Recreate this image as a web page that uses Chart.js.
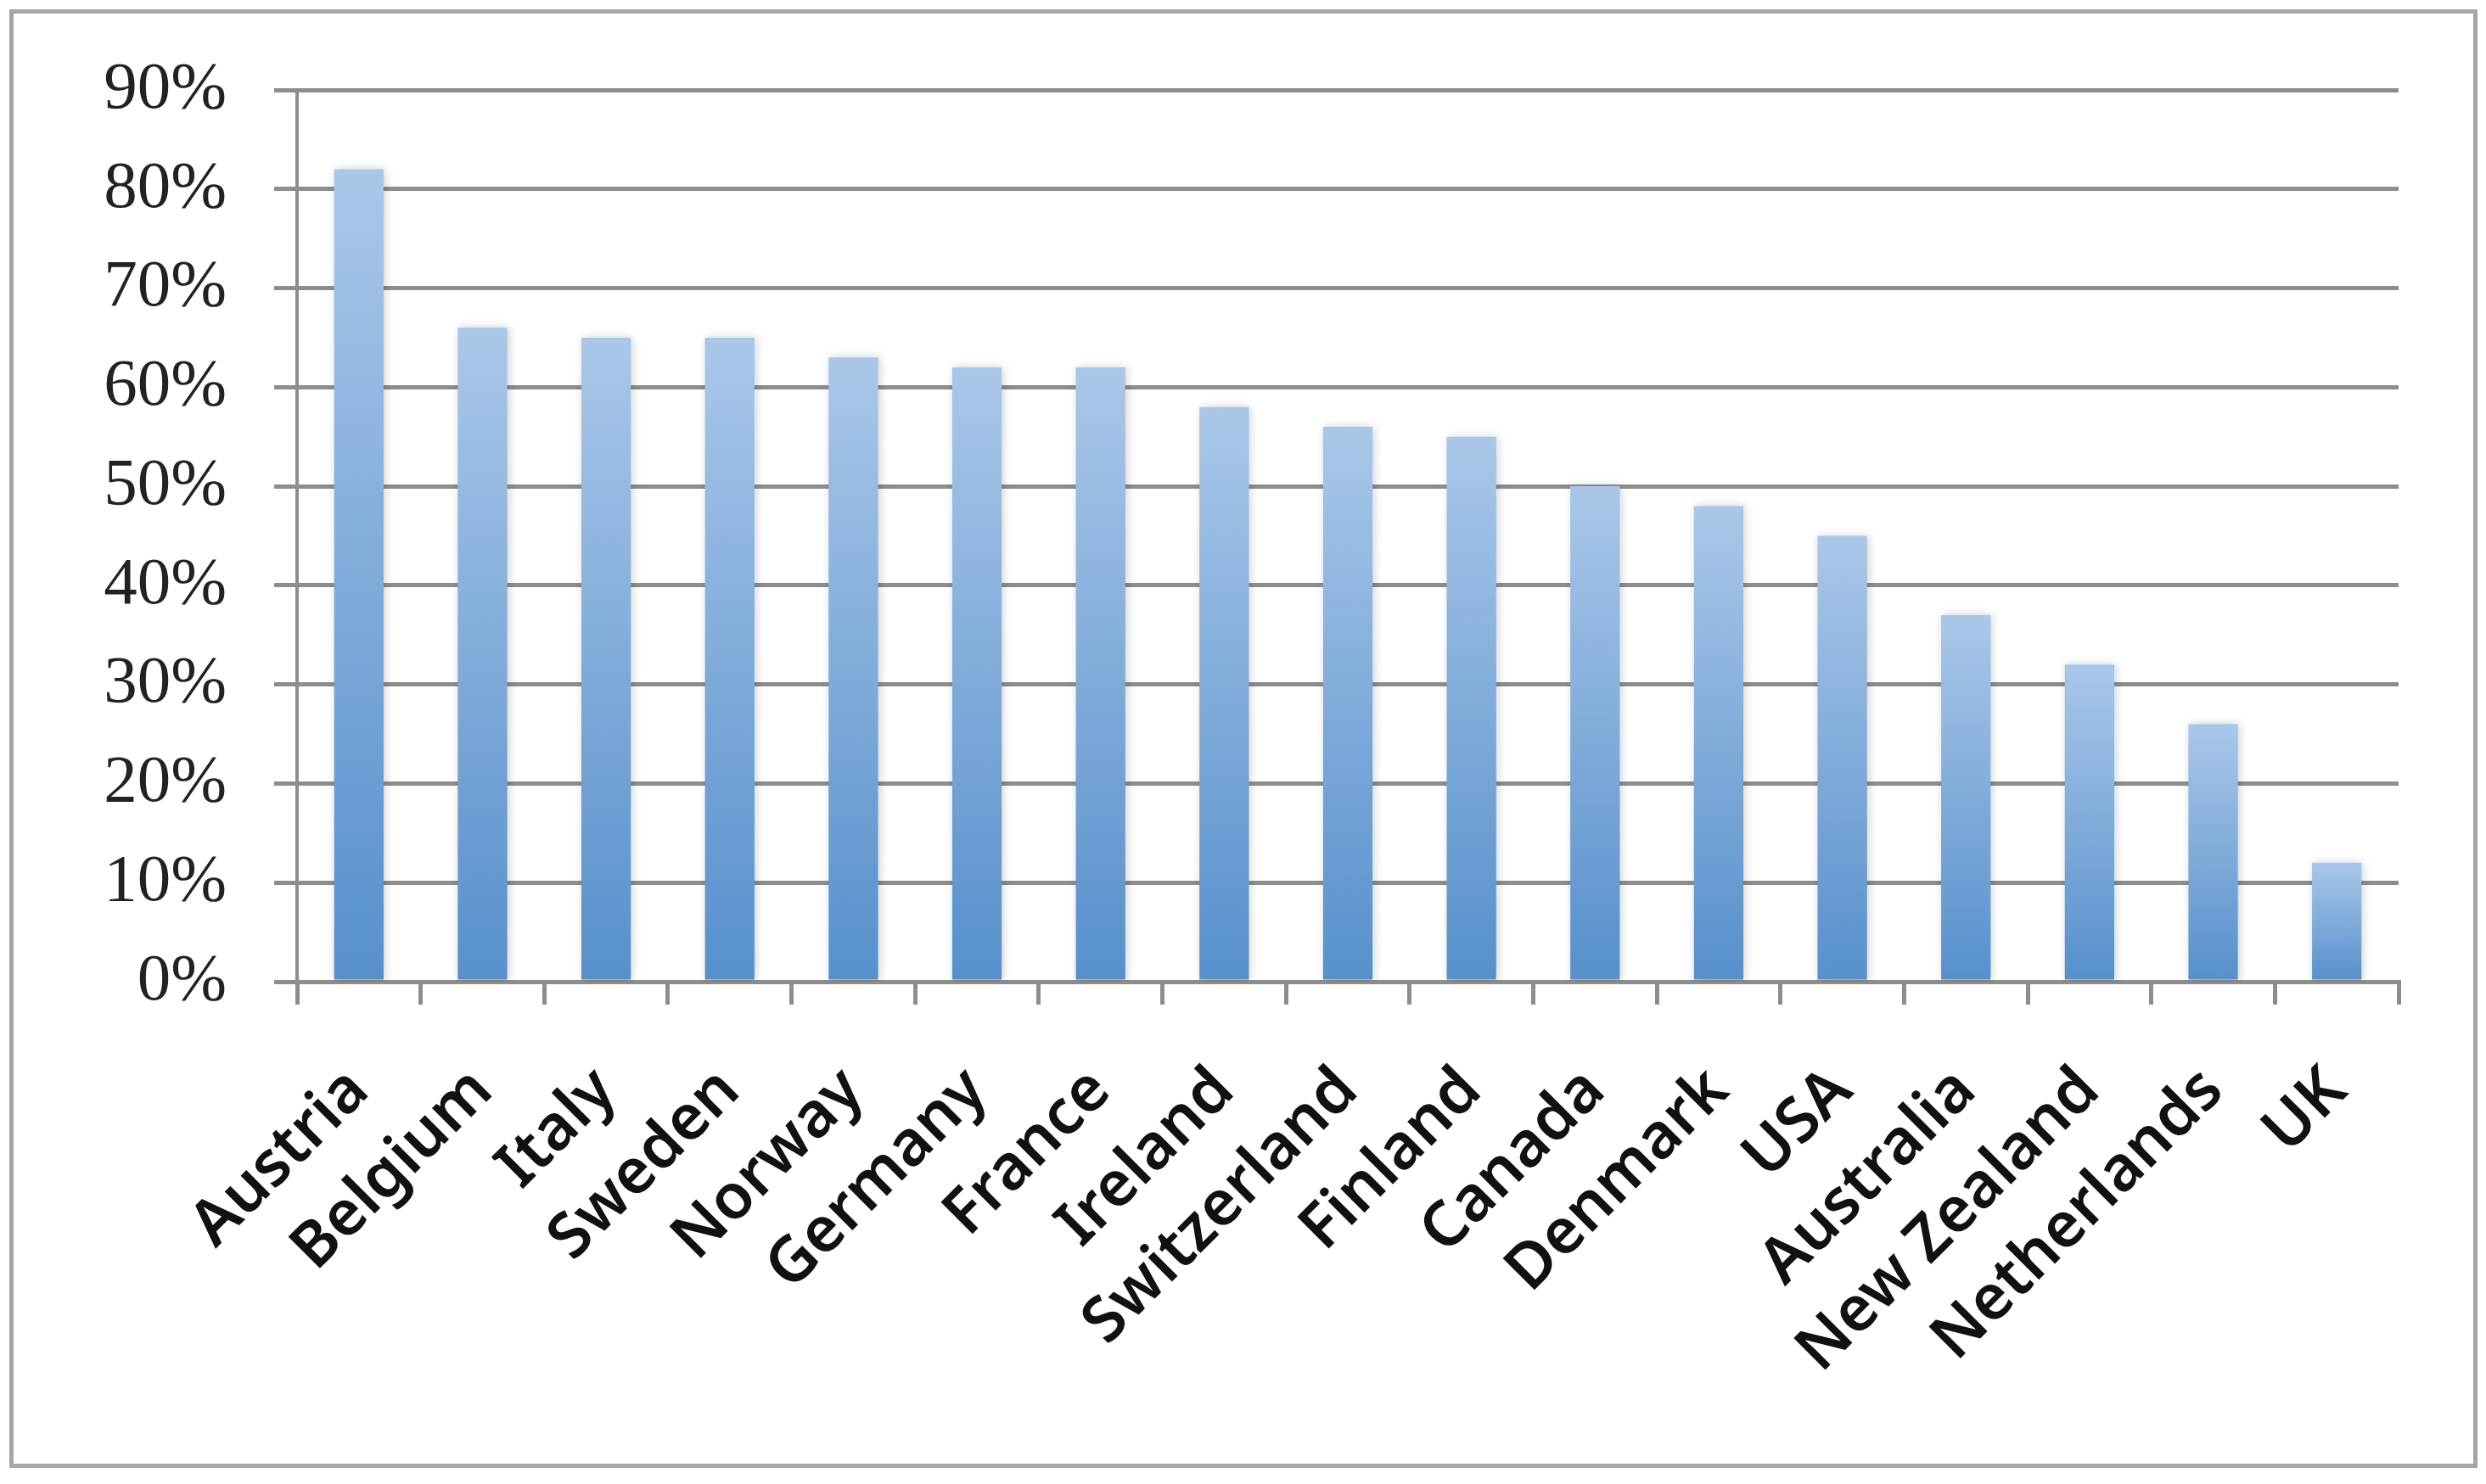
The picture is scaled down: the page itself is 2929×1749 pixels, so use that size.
<!DOCTYPE html>
<html>
<head>
<meta charset="utf-8">
<style>
  html, body { margin: 0; padding: 0; background: #fff; }
  canvas { display: block; }
</style>
<script src="https://cdn.jsdelivr.net/npm/chart.js@4.4.1/dist/chart.umd.min.js"></script>
</head>
<body>
<canvas id="myChart" width="2929" height="1749"></canvas>
<script>
const countries = ['Austria', 'Belgium', 'Italy', 'Sweden', 'Norway', 'Germany', 'France', 'Ireland',
  'Switzerland', 'Finland', 'Canada', 'Denmark', 'USA', 'Australia', 'New Zealand', 'Netherlands', 'UK'];
const shares = [82, 66, 65, 65, 63, 62, 62, 58, 56, 55, 50, 48, 45, 37, 32, 26, 12];
const yTicks = [0, 10, 20, 30, 40, 50, 60, 70, 80, 90];

const gridGray = '#8d8d8d';
const barTop = '#aac7e9';
const barBottom = '#5690cc';

// frame round the whole picture, like the exported excel chart
const framePlugin = {
  id: 'frame',
  beforeDraw(chart) {
    const c = chart.ctx;
    c.save();
    c.fillStyle = '#fff';
    c.fillRect(0, 0, chart.width, chart.height);
    c.strokeStyle = '#a6a6a6';
    c.lineWidth = 5;
    c.strokeRect(13.5, 13.5, 2903, 1714);
    c.restore();
  },
  beforeDatasetsDraw(chart) {
    const c = chart.ctx;
    c.save();
    c.shadowColor = 'rgba(0,0,0,0.18)';
    c.shadowBlur = 10;
    c.shadowOffsetX = 2;
  },
  afterDatasetsDraw(chart) {
    chart.ctx.restore();
  }
};

const ctx = document.getElementById('myChart').getContext('2d');
new Chart(ctx, {
  type: 'bar',
  data: {
    labels: countries,
    datasets: [{
      data: shares,
      backgroundColor: (context) => {
        const chart = context.chart;
        const y = chart.scales.y;
        if (context.type !== 'data' || !y) return barBottom;
        const top = y.getPixelForValue(context.raw);
        const base = y.getPixelForValue(0);
        if (!isFinite(top) || !isFinite(base) || top === base) return barBottom;
        const g = chart.ctx.createLinearGradient(0, top, 0, base);
        g.addColorStop(0, barTop);
        g.addColorStop(1, barBottom);
        return g;
      },
      borderWidth: 0,
      barPercentage: 0.4,
      categoryPercentage: 1
    }]
  },
  options: {
    responsive: false,
    animation: false,
    devicePixelRatio: 1,
    layout: { padding: { top: 106, right: 103, left: 0, bottom: 0 } },
    plugins: {
      legend: { display: false },
      tooltip: { enabled: false }
    },
    scales: {
      x: {
        afterFit: (scale) => { scale.height = 592; },
        grid: {
          offset: true,
          drawOnChartArea: false,
          drawTicks: true,
          tickLength: 27,
          color: gridGray,
          lineWidth: 5
        },
        border: { display: true, color: gridGray, width: 5 },
        ticks: {
          autoSkip: false,
          maxRotation: 45,
          minRotation: 45,
          padding: 58,
          color: '#111',
          font: { family: '"Noto Sans"', size: 74, weight: '600' }
        }
      },
      y: {
        min: 0,
        max: 90,
        afterFit: (scale) => { scale.width = 350; },
        afterBuildTicks: (scale) => { scale.ticks = yTicks.map(v => ({ value: v })); },
        grid: {
          drawTicks: true,
          tickLength: 27,
          color: gridGray,
          lineWidth: 5
        },
        border: { display: true, color: gridGray, width: 4 },
        ticks: {
          padding: 56,
          color: '#222',
          font: { family: '"Liberation Serif"', size: 79 },
          callback: (v) => v + '%'
        }
      }
    }
  },
  plugins: [framePlugin]
});
</script>
</body>
</html>
